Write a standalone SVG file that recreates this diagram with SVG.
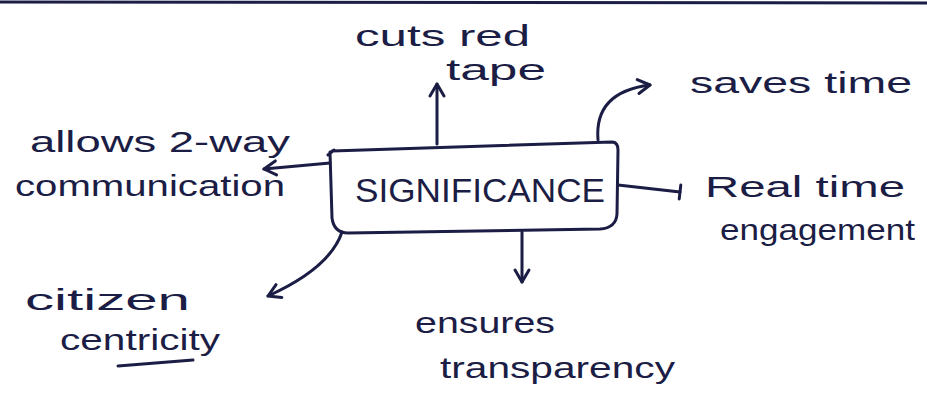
<svg xmlns="http://www.w3.org/2000/svg" width="927" height="409" viewBox="0 0 927 409">
  <defs>
    <marker id="arrow" viewBox="0 0 20 20" refX="16" refY="10" markerWidth="20" markerHeight="20" markerUnits="userSpaceOnUse" orient="auto">
      <path d="M4,3 L16,10 L4,17" fill="none" stroke="#1b1d45" stroke-width="3" stroke-linecap="round" stroke-linejoin="round"/>
    </marker>
    <marker id="tick" viewBox="0 0 20 20" refX="10" refY="10" markerWidth="20" markerHeight="20" markerUnits="userSpaceOnUse" orient="auto">
      <path d="M10,3 L10,17" fill="none" stroke="#1b1d45" stroke-width="3" stroke-linecap="round"/>
    </marker>
    <style>
      .ink { fill: none; stroke: #1b1d45; stroke-width: 3; stroke-linecap: round; stroke-linejoin: round; }
      .lbl { font-family: "Liberation Sans", "DejaVu Sans", sans-serif; font-size: 30px; fill: #1b1d45; }
      .title { font-family: "Liberation Sans", "DejaVu Sans", sans-serif; font-size: 34px; fill: #1b1d45; }
    </style>
  </defs>

  <rect width="927" height="409" fill="#ffffff"/>
  <!-- page edge rule -->
  <path d="M0,2 L927,3" stroke="#1b1d45" stroke-width="3" fill="none"/>

  <g id="center">
    <path class="ink" d="M328,155 L334,150 M332,151 L612,142 Q618,142 618,150 L617,214 Q616,228 600,229 L348,233 Q334,233 332,218 L330,152"/>
    <text class="title" x="355" y="202" textLength="250" lengthAdjust="spacingAndGlyphs">SIGNIFICANCE</text>
  </g>

  <g id="connectors">
    <path class="ink" marker-end="url(#arrow)" d="M437,144 L437,84"/>
    <path class="ink" marker-end="url(#arrow)" d="M598,140 Q594,92 650,85"/>
    <path class="ink" marker-end="url(#tick)" d="M618,185 L680,192"/>
    <path class="ink" marker-end="url(#arrow)" d="M330,163 L264,169"/>
    <path class="ink" marker-end="url(#arrow)" d="M342,232 Q330,268 268,296"/>
    <path class="ink" marker-end="url(#arrow)" d="M522,232 L522,282"/>
  </g>

  <g id="cuts-red-tape">
    <text class="lbl" x="355" y="46" textLength="175" lengthAdjust="spacingAndGlyphs">cuts red</text>
    <text class="lbl" x="446" y="80" textLength="100" lengthAdjust="spacingAndGlyphs">tape</text>
  </g>

  <g id="saves-time">
    <text class="lbl" x="690" y="93" textLength="222" lengthAdjust="spacingAndGlyphs">saves time</text>
  </g>

  <g id="real-time-engagement">
    <text class="lbl" x="705" y="197" textLength="200" lengthAdjust="spacingAndGlyphs">Real time</text>
    <text class="lbl" x="720" y="240" textLength="195" lengthAdjust="spacingAndGlyphs">engagement</text>
  </g>

  <g id="two-way-communication">
    <text class="lbl" x="30" y="152" textLength="260" lengthAdjust="spacingAndGlyphs">allows 2-way</text>
    <text class="lbl" x="15" y="196" textLength="270" lengthAdjust="spacingAndGlyphs">communication</text>
  </g>

  <g id="citizen-centricity">
    <text class="lbl" x="25" y="310" textLength="165" lengthAdjust="spacingAndGlyphs">citizen</text>
    <text class="lbl" x="60" y="350" textLength="160" lengthAdjust="spacingAndGlyphs">centricity</text>
    <path class="ink" d="M118,366 L193,360"/>
  </g>

  <g id="ensures-transparency">
    <text class="lbl" x="415" y="333" textLength="140" lengthAdjust="spacingAndGlyphs">ensures</text>
    <text class="lbl" x="440" y="378" textLength="235" lengthAdjust="spacingAndGlyphs">transparency</text>
  </g>
</svg>
